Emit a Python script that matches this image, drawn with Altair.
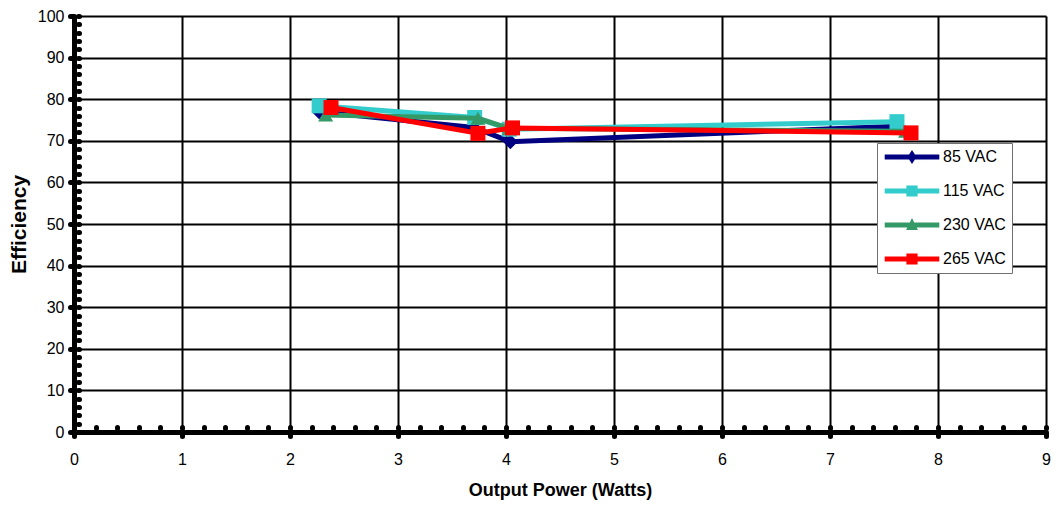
import altair as alt
import pandas as pd

series = ["85 VAC", "115 VAC", "230 VAC", "265 VAC"]
colors = ["#000080", "#33CCCC", "#339966", "#FF0000"]
marker_shapes = ["diamond", "square", "triangle-up", "square"]

x_85 = [2.27, 3.70, 4.04, 7.62]
y_85 = [77.0, 73.2, 69.8, 73.5]
x_115 = [2.27, 3.71, 4.03, 7.62]
y_115 = [78.4, 75.6, 72.8, 74.6]
x_230 = [2.33, 3.74, 4.03, 7.70]
y_230 = [76.2, 75.4, 73.0, 72.3]
x_265 = [2.38, 3.74, 4.06, 7.75]
y_265 = [78.0, 71.8, 73.1, 71.9]

x_ticks = list(range(0, 10))
y_ticks = list(range(0, 101, 10))
x_minor = [round(i * 0.2, 1) for i in range(46)]
y_minor = list(range(0, 101, 2))

xs = [x_85, x_115, x_230, x_265]
ys = [y_85, y_115, y_230, y_265]

rows = []
for s, xv, yv in zip(series, xs, ys):
    for i, (a, b) in enumerate(zip(xv, yv)):
        rows.append({"series": s, "x": a, "y": b, "i": i})
df = pd.DataFrame(rows)

FONT = "Liberation Sans"

# legend symbol paths: a line with the marker in the middle (units: 1 = 7px)
line_p = "M-3.9,-0.36H3.9V0.36H-3.9Z"
mk = {
    "diamond": "M0,-1.0L0.65,0L0,1.0L-0.65,0Z",
    "square": "M-0.8,-0.8H0.8V0.8H-0.8Z",
    "triangle-up": "M0,-1.0L0.85,0.7L-0.85,0.7Z",
}
paths = [line_p + mk[m] for m in marker_shapes]
expr = "'" + paths[-1] + "'"
for s, p in reversed(list(zip(series[:-1], paths[:-1]))):
    expr = f"datum.value === '{s}' ? '{p}' : ({expr})"

x_scale = alt.Scale(domain=[0, 9], nice=False, zero=False)
y_scale = alt.Scale(domain=[0, 100], nice=False, zero=False)

x_axis = alt.Axis(
    values=x_ticks, title="Output Power (Watts)", grid=True, gridColor="black",
    gridWidth=2, gridOpacity=1, domainColor="black", domainWidth=5,
    tickColor="black", tickWidth=5, tickSize=4, tickCap="round",
    labelFont=FONT, labelFontSize=16, labelColor="black", labelPadding=15,
    titleFont=FONT, titleFontSize=18, titleFontWeight="bold", titleColor="black",
    titlePadding=14, labelFlush=False, labelOverlap=False,
)
y_axis = alt.Axis(
    values=y_ticks, title="Efficiency", grid=True, gridColor="black",
    gridWidth=2, gridOpacity=1, domainColor="black", domainWidth=5,
    tickColor="black", tickWidth=5, tickSize=4, tickCap="round",
    labelFont=FONT, labelFontSize=16, labelColor="black", labelPadding=6,
    titleFont=FONT, titleFontSize=21, titleFontWeight="bold", titleColor="black",
    titlePadding=8, labelFlush=False, labelOverlap=False,
)

legend = alt.Legend(
    title=None, orient="none", legendX=803, legendY=127,
    fillColor="white", strokeColor="#707070",
    padding=6, labelFont=FONT, labelFontSize=16, labelColor="black",
    symbolSize=196, symbolType={"expr": expr}, symbolOffset=21, labelOffset=23,
    symbolFillColor={"expr": "scale('color', datum.value)"},
    symbolStrokeWidth=0, symbolOpacity=1,
    rowPadding=18,
)

color_enc = alt.Color("series:N", scale=alt.Scale(domain=series, range=colors), legend=legend)

layers = []
for s, c, m in zip(series, colors, marker_shapes):
    base = alt.Chart(df).transform_filter(alt.datum.series == s)
    enc_x = alt.X("x:Q", scale=x_scale, axis=x_axis)
    enc_y = alt.Y("y:Q", scale=y_scale, axis=y_axis)
    line = base.mark_line(strokeWidth=5).encode(x=enc_x, y=enc_y, color=color_enc, order="i:O")
    pts = base.mark_point(filled=True, size=225, opacity=1, shape=m, color=c).encode(x=enc_x, y=enc_y)
    layers += [line, pts]

main = alt.layer(*layers)

minor = alt.Chart(df).mark_point(opacity=0).encode(
    x=alt.X("x:Q", scale=x_scale, axis=alt.Axis(
        orient="bottom", values=x_minor, labels=False, grid=False, domain=False, title=None,
        tickColor="black", tickWidth=5, tickSize=1, tickCap="round", offset=-5)),
    y=alt.Y("y:Q", scale=y_scale, axis=alt.Axis(
        orient="left", values=y_minor, labels=False, grid=False, domain=False, title=None,
        tickColor="black", tickWidth=5, tickSize=1, tickCap="round", offset=-5)),
)

chart = alt.layer(main, minor).resolve_axis(x="independent", y="independent").properties(
    width=972, height=416,
    autosize=alt.AutoSizeParams(type="none"),
    padding={"left": 66, "top": 8, "right": 6, "bottom": 70},
).configure_view(stroke="black", strokeWidth=5).configure(background="white")

chart.save("out.html", embed_options={"renderer": "svg", "actions": False})
